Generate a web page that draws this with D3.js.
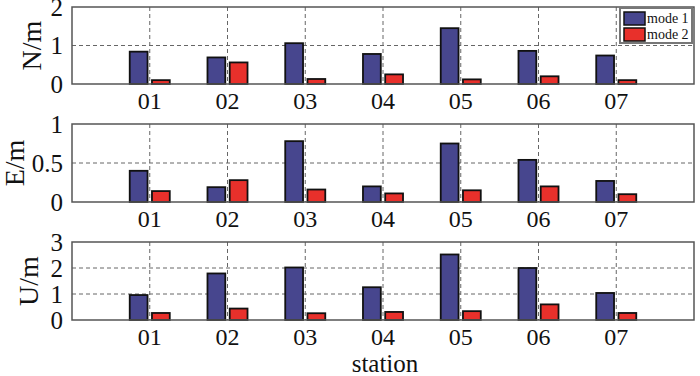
<!DOCTYPE html>
<html><head><meta charset="utf-8">
<script src="https://cdn.jsdelivr.net/npm/d3@7"></script>
<style>body{margin:0;background:#fff}svg{display:block}</style>
</head><body><svg id="c" width="700" height="376" font-family="'Liberation Serif', 'Times New Roman', serif"></svg>
<script>
const stations = ["01","02","03","04","05","06","07"];
const seriesNames = ["mode 1","mode 2"];
const northMode1 = [0.84,0.69,1.06,0.78,1.45,0.86,0.74];
const northMode2 = [0.10,0.56,0.13,0.25,0.12,0.20,0.10];
const eastMode1 = [0.40,0.19,0.78,0.20,0.75,0.54,0.27];
const eastMode2 = [0.14,0.28,0.16,0.11,0.15,0.20,0.10];
const upMode1 = [0.96,1.79,2.02,1.26,2.52,2.00,1.04];
const upMode2 = [0.27,0.44,0.26,0.31,0.34,0.60,0.27];
const northTicks = [0,1,2];
const eastTicks = [0,0.5,1];
const upTicks = [0,1,2,3];
const colors = ["#47468e","#e8302b"];

const panels = [
  {label:"N/m", m1:northMode1, m2:northMode2, ticks:northTicks, top:7, bottom:84, lx:41, legend:true},
  {label:"E/m", m1:eastMode1, m2:eastMode2, ticks:eastTicks, top:124, bottom:202, lx:24},
  {label:"U/m", m1:upMode1, m2:upMode2, ticks:upTicks, top:242, bottom:320, lx:38}
];
const svg = d3.select("#c");
const left = 72, right = 694;
const x = d3.scaleLinear().domain([0, stations.length+1]).range([left,right]);
const step = x(1)-x(0);
const offset = 0.143, bw = 0.229;

panels.forEach(p=>{
  const y = d3.scaleLinear().domain([p.ticks[0], p.ticks[p.ticks.length-1]]).range([p.bottom,p.top]);
  const g = svg.append("g");
  g.selectAll(".gx").data(stations).enter().append("line")
    .attr("x1",(d,i)=>x(i+1)).attr("x2",(d,i)=>x(i+1))
    .attr("y1",p.top).attr("y2",p.bottom)
    .attr("stroke","#666").attr("stroke-width",1).attr("stroke-dasharray","4,3");
  g.selectAll(".gy").data(p.ticks.slice(1,-1)).enter().append("line")
    .attr("x1",left).attr("x2",right).attr("y1",d=>y(d)).attr("y2",d=>y(d))
    .attr("stroke","#666").attr("stroke-width",1).attr("stroke-dasharray","4,3");
  [p.m1,p.m2].forEach((vals,si)=>{
    g.selectAll(".b"+si).data(vals).enter().append("rect")
      .attr("x",(d,i)=>x(i+1+(si===0?-offset:offset)-bw/2))
      .attr("width",bw*step)
      .attr("y",d=>y(d)).attr("height",d=>y(0)-y(d))
      .attr("fill",colors[si]).attr("stroke","#111").attr("stroke-width",1.8);
  });
  g.append("rect").attr("x",left).attr("y",p.top).attr("width",right-left).attr("height",p.bottom-p.top)
    .attr("fill","none").attr("stroke","#555").attr("stroke-width",1.5);
  g.selectAll(".xt").data(stations).enter().append("text")
    .attr("x",(d,i)=>x(i+1)).attr("y",p.bottom+25).attr("text-anchor","middle")
    .attr("font-size",24).attr("fill","#111").text(d=>d);
  g.selectAll(".yt").data(p.ticks).enter().append("text")
    .attr("x",63).attr("y",d=>y(d)+8.5).attr("text-anchor","end")
    .attr("font-size",25).attr("fill","#111").text(d=>d);
  g.append("text").attr("transform",`translate(${p.lx},${(p.top+p.bottom)/2}) rotate(-90)`)
    .attr("text-anchor","middle").attr("font-size",28).attr("fill","#111").text(p.label);
  if(p.legend){
    const lg = svg.append("g");
    lg.append("rect").attr("x",620).attr("y",8).attr("width",72).attr("height",35)
      .attr("fill","#fff").attr("stroke","#777").attr("stroke-width",2);
    seriesNames.forEach((n,i)=>{
      lg.append("rect").attr("x",624).attr("y",12+i*16).attr("width",21).attr("height",13)
        .attr("fill",colors[i]).attr("stroke","#111").attr("stroke-width",1.5);
      lg.append("text").attr("x",647).attr("y",23+i*16).attr("font-size",14).attr("fill","#111").text(n);
    });
  }
});
svg.append("text").attr("x",385).attr("y",372).attr("text-anchor","middle")
  .attr("font-size",25).attr("fill","#111").text("station");
</script></body></html>
